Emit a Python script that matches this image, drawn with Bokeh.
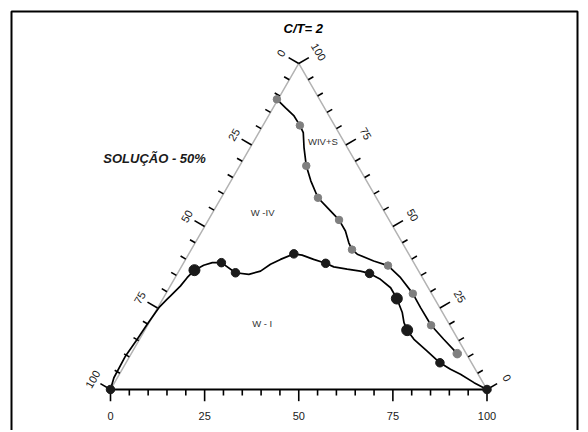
import math
from bokeh.plotting import figure
from bokeh.core.properties import value
from bokeh.embed import file_html
from bokeh.resources import INLINE

# ---- data (ternary compositions, %): R = bottom axis, T = right axis, L = 100 - R - T (left axis)
wi_R = [0.0, -0.9, -1.15, -0.6, -0.25, 0.3, 1.2, 1.6, 2.7, 3.2, 4.0, 5.7, 7.6, 10.0, 15.3, 19.1,
        21.7, 23.3, 25.2, 27.9, 30.3, 34.0, 37.8, 40.5, 44.4, 48.2, 51.0, 54.8, 58.8, 62.1, 65.7,
        67.7, 69.7, 72.9, 78.2, 83.4, 87.2, 90.6, 95.5, 100.0]
wi_T = [0.0, 3.6, 10.3, 15.4, 20.0, 25.1, 27.7, 28.7, 31.7, 34.3, 36.6, 38.1, 38.9, 38.9, 35.8, 35.3,
        36.3, 38.4, 39.9, 41.6, 41.2, 39.9, 38.7, 37.6, 36.9, 36.3, 35.6, 33.8, 31.2, 27.9, 23.6,
        20.5, 18.2, 15.4, 11.8, 8.2, 6.2, 4.7, 2.1, 0.0]
wi_pts_R = [0.0, 10.0, 15.3, 27.9, 37.8, 51.0, 83.4, 100.0]
wi_pts_T = [0.0, 38.9, 35.8, 41.6, 38.7, 35.6, 8.2, 0.0]
wi_big_R = [4.0, 62.1, 69.7]
wi_big_T = [36.6, 27.9, 18.2]

wivs_R = [-0.3, 3.3, 6.8, 9.8, 11.8, 14.3, 17.7, 21.2, 25.7, 29.7, 34.7, 38.1, 40.8, 42.7, 44.8,
          50.2, 54.7, 59.9, 65.6, 69.8, 75.3, 80.8, 86.6]
wivs_T = [89.0, 86.4, 83.9, 81.0, 78.8, 74.2, 68.6, 64.0, 58.8, 55.8, 52.0, 48.6, 45.0, 42.9, 41.5,
          39.4, 38.0, 34.3, 29.4, 25.1, 19.7, 15.4, 11.0]
wivs_pts_R = [-0.3, 9.8, 17.7, 25.7, 34.7, 42.7, 54.7, 65.6, 75.3]
wivs_pts_T = [89.0, 81.0, 68.6, 58.8, 52.0, 42.9, 38.0, 29.4, 19.7]
wivs_end_R = [86.6]
wivs_end_T = [11.0]

tick_values = list(range(0, 101, 5))
label_values = [0, 25, 50, 75, 100]
label_texts = ["0", "25", "50", "75", "100"]

S3 = math.sqrt(3) / 2


def to_xy(R, T):
    return [r + t / 2 for r, t in zip(R, T)], [t * S3 for t in T]


SC = 3.765  # px per unit
CW, CH = 584, 430
x0 = -110 / SC            # canvas x=110 -> X=0
y0 = -(CH - 389) / SC     # canvas y=389 (from top) -> Y=0
p = figure(width=CW, height=CH, x_range=(x0, x0 + CW / SC), y_range=(y0, y0 + CH / SC),
           output_backend="svg", toolbar_location=None,
           x_axis_location=None, y_axis_location=None,
           min_border_left=0, min_border_top=0, min_border_right=0, min_border_bottom=0)
p.grid.visible = False
p.outline_line_color = None
p.background_fill_color = "white"
p.border_fill_color = "white"

# outer box (open at the bottom, as in the original crop)
bl, br, bt = x0 + 11 / SC, x0 + 577 / SC, y0 + (CH - 11) / SC
p.line([bl, bl, br, br], [y0 - 5, bt, bt, y0 - 5], line_color="black", line_width=2)

# triangle edges
p.line([0, 50, 100], [0, 100 * S3, 0], line_color="#b3b3b3", line_width=1.5)
p.line([0, 100], [0, 0], line_color="black", line_width=2)

# ticks
MAJ, MIN = 3.1, 1.6
sx0, sy0, sx1, sy1 = [], [], [], []
nl = (-S3, 0.5)
nr = (S3, 0.5)
for v in tick_values:
    ln = MAJ if v % 25 == 0 else MIN
    sx0.append(v); sy0.append(0); sx1.append(v); sy1.append(-ln)
    t = 100 - v
    X, Y = t / 2, t * S3
    sx0.append(X); sy0.append(Y); sx1.append(X + ln * nl[0]); sy1.append(Y + ln * nl[1])
    X, Y = 100 - v / 2, v * S3
    sx0.append(X); sy0.append(Y); sx1.append(X + ln * nr[0]); sy1.append(Y + ln * nr[1])
p.segment(sx0, sy0, sx1, sy1, line_color="black", line_width=1.6)

# tick labels
font = value("Liberation Sans")
bx = label_values
by = [-26 / SC] * len(bx)
p.text(bx, by, text=label_texts, text_font=font, text_font_size="11px", text_color="#1a1a1a",
       text_align="center", text_baseline="middle")
dl = 20.5 / SC
lx = [(100 - v) / 2 + dl * nl[0] for v in label_values]
ly = [(100 - v) * S3 + dl * nl[1] for v in label_values]
p.text(lx, ly, text=label_texts, text_font=font, text_font_size="11px", text_color="#1a1a1a",
       text_align="center", text_baseline="middle", angle=math.pi / 3)
dr = 23 / SC
rx = [100 - v / 2 + dr * nr[0] for v in label_values]
ry = [v * S3 + dr * nr[1] for v in label_values]
p.text(rx, ry, text=label_texts, text_font=font, text_font_size="11px", text_color="#1a1a1a",
       text_align="center", text_baseline="middle", angle=-math.pi / 3)

# curves
x, y = to_xy(wivs_R, wivs_T)
p.line(x, y, line_color="black", line_width=1.7)
x, y = to_xy(wi_R, wi_T)
p.line(x, y, line_color="black", line_width=1.7)

x, y = to_xy(wivs_pts_R, wivs_pts_T)
p.scatter(x, y, size=7.5, fill_color="#7f7f7f", line_color="#7f7f7f")
x, y = to_xy(wivs_end_R, wivs_end_T)
p.scatter(x, y, size=8.5, fill_color="#7f7f7f", line_color="#7f7f7f")
x, y = to_xy(wi_pts_R, wi_pts_T)
p.scatter(x, y, size=8.5, fill_color="#1a1a1a", line_color="#1a1a1a")
x, y = to_xy(wi_big_R, wi_big_T)
p.scatter(x, y, size=11, fill_color="#1a1a1a", line_color="#1a1a1a")

# region labels
p.text([56.4, 40.4, 40.3], [65.9, 46.9, 17.4], text=["WIV+S", "W -IV", "W - I"], text_font=font,
       text_font_size="9.5px", text_color="#333333", text_align="center", text_baseline="middle")

# titles
p.text([51.2], [95.9], text=["C/T= 2"], text_font=font, text_font_size="13px",
       text_font_style="bold italic", text_color="black", text_align="center", text_baseline="middle")
p.text([11.7], [61.4], text=["SOLUÇÃO - 50%"], text_font=font, text_font_size="13px",
       text_font_style="bold italic", text_color="#1a1a1a", text_align="center", text_baseline="middle")

open("out.html", "w").write(file_html(p, INLINE))
